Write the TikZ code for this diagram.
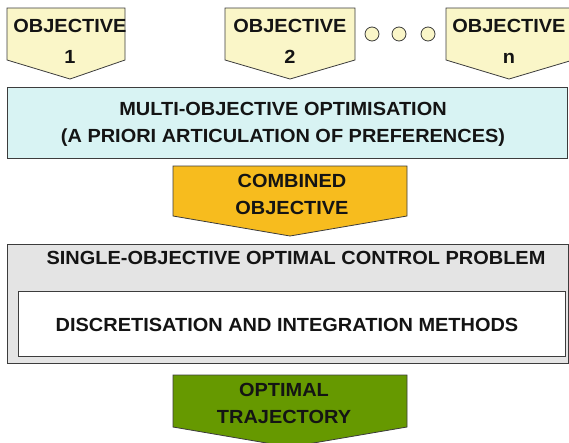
\documentclass[tikz,border=0pt]{standalone}
\usepackage{fontspec}
\newfontfamily\labfont[FakeStretch=1.05]{Liberation Sans}
\definecolor{edge}{RGB}{60,60,60}
\definecolor{ink}{RGB}{20,20,20}
\definecolor{objfill}{RGB}{250,246,200}
\definecolor{multifill}{RGB}{216,243,243}
\definecolor{combfill}{RGB}{247,188,30}
\definecolor{singlefill}{RGB}{228,228,228}
\definecolor{trajfill}{RGB}{102,153,0}
\begin{document}
\begin{tikzpicture}[x=1pt, y=-1pt, line width=0.8pt,
	lbl/.style={font=\labfont\bfseries\fontsize{19}{27}\selectfont, align=center, inner sep=0pt, text=ink},
	frame/.style={draw=edge, line join=miter}]
	\useasboundingbox (0,0) rectangle (569,442);
	% objectives
	\foreach \xa/\xb/\xp/\t in {7/125/70/1, 225/355/290/2, 446/573/509/n}{
		\draw[frame, fill=objfill] (\xa,8)--(\xb,8)--(\xb,60)--(\xp,79)--(\xa,60)--cycle;
		\node[lbl] (obj\t) at (\xp,41) {OBJECTIVE\\[4pt]\t};
	}
	\foreach \x in {372,399,428} \draw[frame, fill=objfill] (\x,34) circle (7pt);
	% multi-objective
	\draw[frame, fill=multifill] (7,87) rectangle (567,158);
	\node[lbl] (multi) at (283,124.5) {MULTI-OBJECTIVE OPTIMISATION\\(A PRIORI ARTICULATION OF PREFERENCES)};
	\draw[frame, fill=combfill] (173,166)--(407,166)--(407,216)--(290,236)--(173,216)--cycle;
	\node[lbl] (comb) at (292,194.5) {COMBINED\\OBJECTIVE};
	% single-objective problem
	\draw[frame, fill=singlefill] (7,244) rectangle (568,363);
	\node[lbl] (single) at (296,258) {SINGLE-OBJECTIVE OPTIMAL CONTROL PROBLEM};
	\draw[frame, fill=white] (18,291) rectangle (565,356);
	\node[lbl] (disc) at (287,325) {DISCRETISATION AND INTEGRATION METHODS};
	\draw[frame, fill=trajfill] (173,375)--(407,375)--(407,427)--(290,447)--(173,427)--cycle;
	\node[lbl] (traj) at (284,403.5) {OPTIMAL\\TRAJECTORY};
\end{tikzpicture}
\end{document}
